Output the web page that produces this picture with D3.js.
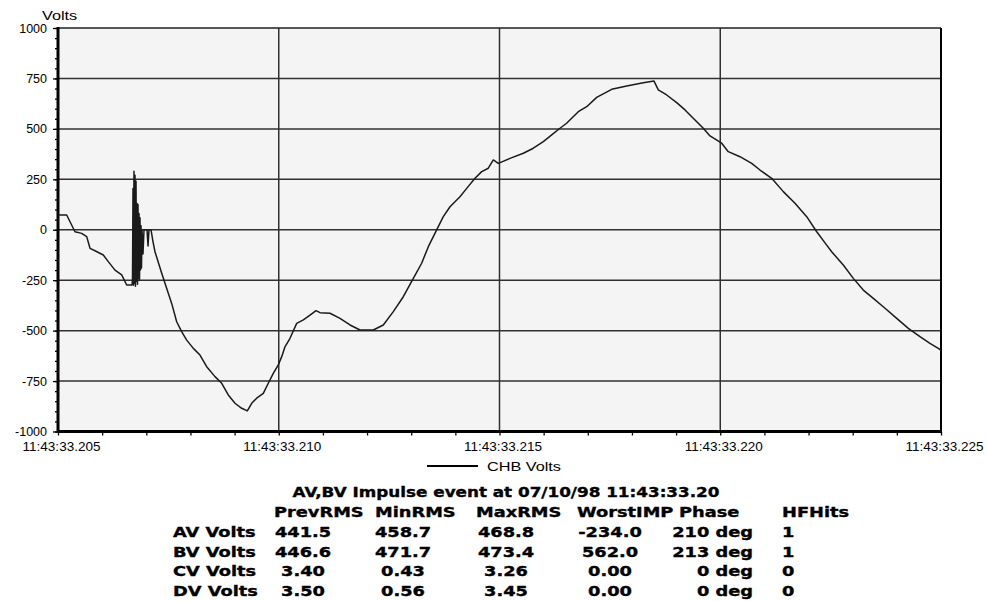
<!DOCTYPE html>
<html>
<head>
<meta charset="utf-8">
<script src="https://cdn.jsdelivr.net/npm/d3@7"></script>
<style>
  body { margin: 0; background: #fff; }
  svg { display: block; }
  .axis text { font-family: "Liberation Sans", Arial, sans-serif; font-size: 12.5px; fill: #000; }
  .axis line { stroke: #000; stroke-width: 1.3; }
  .lbl { font-family: "Liberation Sans", Arial, sans-serif; font-size: 13px; fill: #000; }
  .tbl { font-family: "DejaVu Sans", sans-serif; font-weight: bold; font-size: 14px; fill: #000; stroke: #000; stroke-width: 0.35; }
</style>
</head>
<body>
<svg id="chart" width="987" height="601"></svg>
<script>
// waveform: time in ms after 11:43:33.205, value in volts
var timeMs = [0, 0.197, 0.385, 0.537, 0.650, 0.725, 0.838, 1.026, 1.139, 1.291, 1.443, 1.556,
  1.676, 1.687, 1.699, 1.710, 1.721, 1.733, 1.744, 1.755, 1.767, 1.778, 1.789, 1.801, 1.812,
  1.823, 1.835, 1.846, 1.857, 1.868, 1.880, 1.891, 1.903, 1.925, 1.948, 2.016, 2.039, 2.061,
  2.107, 2.152, 2.197, 2.349, 2.498, 2.575, 2.688, 2.801, 2.915, 3.066, 3.216, 3.368, 3.556,
  3.708, 3.857, 4.009, 4.161, 4.288, 4.387, 4.500, 4.650, 4.763, 4.876, 4.990, 5.067, 5.141,
  5.255, 5.406, 5.557, 5.708, 5.844, 5.934, 6.161, 6.387, 6.614, 6.840, 7.142, 7.368, 7.595,
  7.821, 8.048, 8.237, 8.388, 8.577, 8.727, 8.879, 9.105, 9.257, 9.445, 9.597, 9.746, 9.860,
  9.973, 10.238, 10.540, 10.766, 10.992, 11.182, 11.370, 11.52, 11.785, 11.975, 12.201, 12.541,
  12.881, 13.257, 13.500, 13.597, 13.787, 14.013, 14.202, 14.428, 14.616, 14.768, 15.033,
  15.182, 15.447, 15.712, 15.900, 16.165, 16.428, 16.693, 16.958, 17.185, 17.411, 17.524,
  17.787, 18.014, 18.240, 18.467, 18.732, 18.997, 19.260, 19.524, 19.750, 19.939, 20.0];
var volts = [73, 73, -10, -18, -34, -92, -104, -125, -158, -200, -224, -274,
  -274, -250, 205, -275, 290, -265, 270, -280, 240, -255, 130, -270, 125,
  -240, 80, -250, 60, -200, 20, -190, 0, -120, 0, 0, -80, 0,
  0, -60, -109, -216, -315, -365, -456, -505, -547, -588, -621, -679, -728,
  -761, -819, -860, -885, -898, -860, -835, -811, -761, -712, -670, -629, -580,
  -538, -464, -447, -423, -401, -411, -414, -439, -472, -497, -497, -472, -406,
  -332, -241, -166, -84, -1, 65, 114, 164, 205, 255, 288, 305, 346,
  329, 354, 379, 404, 437, 470, 503, 528, 585, 610, 656, 696,
  713, 729, 737, 693, 668, 630, 594, 544, 503, 465, 429,
  387, 362, 329, 296, 255, 189, 131, 65, -10, -76, -109,
  -175, -241, -299, -340, -389, -439, -489, -530, -563, -588, -598];

var yTicks = [-1000, -750, -500, -250, 0, 250, 500, 750, 1000];
var xTicks = [0, 5, 10, 15, 20];
var xTickLabels = ["11:43:33.205", "11:43:33.210", "11:43:33.215", "11:43:33.220", "11:43:33.225"];
var seriesName = "CHB Volts";
var yTitle = "Volts";

var tableTitle = "AV,BV Impulse event at 07/10/98 11:43:33.20";
var colHeads = ["PrevRMS", "MinRMS", "MaxRMS", "WorstIMP", "Phase", "HFHits"];
var rowNames = ["AV Volts", "BV Volts", "CV Volts", "DV Volts"];
var prevRMS = ["441.5", "446.6", "3.40", "3.50"];
var minRMS = ["458.7", "471.7", "0.43", "0.56"];
var maxRMS = ["468.8", "473.4", "3.26", "3.45"];
var worstIMP = ["-234.0", "562.0", "0.00", "0.00"];
var phase = ["210 deg", "213 deg", "0 deg", "0 deg"];
var hfHits = ["1", "1", "0", "0"];

var margin = {top: 28, left: 58},
    width = 883,
    height = 403.5;

var svg = d3.select("#chart");
var g = svg.append("g").attr("transform", "translate(" + margin.left + "," + margin.top + ")");

var x = d3.scaleLinear().domain([0, 20]).range([0, width]);
var y = d3.scaleLinear().domain([-1000, 1000]).range([height, 0]);

g.append("rect").attr("width", width).attr("height", height).attr("fill", "#f4f4f4");

// grid
g.selectAll(".hgrid").data(yTicks.slice(1, -1)).enter().append("line")
  .attr("x1", 0).attr("x2", width)
  .attr("y1", function(d) { return y(d); }).attr("y2", function(d) { return y(d); })
  .attr("stroke", "#303030").attr("stroke-width", 1.5);
g.selectAll(".vgrid").data(xTicks.slice(1, -1)).enter().append("line")
  .attr("y1", 0).attr("y2", height)
  .attr("x1", function(d) { return x(d); }).attr("x2", function(d) { return x(d); })
  .attr("stroke", "#303030").attr("stroke-width", 1.5);

// minor ticks
g.append("g").attr("class", "axis")
  .call(d3.axisLeft(y).tickValues(d3.range(-1000, 1001, 50)).tickSize(3).tickFormat(""))
  .select(".domain").remove();
var ya = g.append("g").attr("class", "axis")
  .call(d3.axisLeft(y).tickValues(yTicks).tickSize(5).tickPadding(6)
    .tickFormat(function(d) { return String(d); }));
ya.select(".domain").remove();

var xa = g.append("g").attr("class", "axis").attr("transform", "translate(0," + height + ")")
  .call(d3.axisBottom(x).tickValues(d3.range(0, 21, 1)).tickSize(4).tickPadding(6)
    .tickFormat(function(d) { var i = xTicks.indexOf(d); return i < 0 ? "" : xTickLabels[i]; }));
xa.select(".domain").remove();
xa.selectAll("text").attr("dx", 3).style("font-size", "13.5px");

// frame
g.append("line").attr("x1", 0).attr("x2", width).attr("y1", 0).attr("y2", 0)
  .attr("stroke", "#202020").attr("stroke-width", 1.5);
g.append("line").attr("x1", width).attr("x2", width).attr("y1", 0).attr("y2", height)
  .attr("stroke", "#000").attr("stroke-width", 2);
g.append("line").attr("x1", 0).attr("x2", 0).attr("y1", -1).attr("y2", height + 1.5)
  .attr("stroke", "#000").attr("stroke-width", 3);
g.append("line").attr("x1", 0).attr("x2", width + 1).attr("y1", height).attr("y2", height)
  .attr("stroke", "#000").attr("stroke-width", 3);

// series
var line = d3.line()
  .x(function(d, i) { return x(timeMs[i]); })
  .y(function(d) { return y(d); });
g.append("path").datum(volts)
  .attr("d", line)
  .attr("fill", "none")
  .attr("stroke", "#1a1a1a")
  .attr("stroke-width", 1.5)
  .attr("stroke-linejoin", "round");

function label(parent, x0, y0, s, anchor, sx, cls) {
  return parent.append("text").attr("class", cls).attr("text-anchor", anchor)
    .attr("transform", "translate(" + x0 + "," + y0 + ") scale(" + sx + ",1)")
    .text(s);
}

label(svg, 42, 20, yTitle, "start", 1.25, "lbl");

// legend
svg.append("line").attr("x1", 427).attr("x2", 478).attr("y1", 466).attr("y2", 466)
  .attr("stroke", "#000").attr("stroke-width", 2);
label(svg, 487, 471, seriesName, "start", 1.25, "lbl");

// table
var sx = 1.27;
label(svg, 506, 497, tableTitle, "middle", 1.2, "tbl");
var headX = [274, 375, 476, 577, 679, 782];
colHeads.forEach(function(h, i) { label(svg, headX[i], 517, h, "start", sx, "tbl"); });
var cols = [
  {vals: prevRMS, x: 303, anchor: "middle"},
  {vals: minRMS, x: 403, anchor: "middle"},
  {vals: maxRMS, x: 506, anchor: "middle"},
  {vals: worstIMP, x: 610, anchor: "middle"},
  {vals: phase, x: 753, anchor: "end"},
  {vals: hfHits, x: 782, anchor: "start"}
];
rowNames.forEach(function(r, j) {
  var yy = 537 + j * 19.7;
  label(svg, 173, yy, r, "start", sx, "tbl");
  cols.forEach(function(c) { label(svg, c.x, yy, c.vals[j], c.anchor, sx, "tbl"); });
});
</script>
</body>
</html>
